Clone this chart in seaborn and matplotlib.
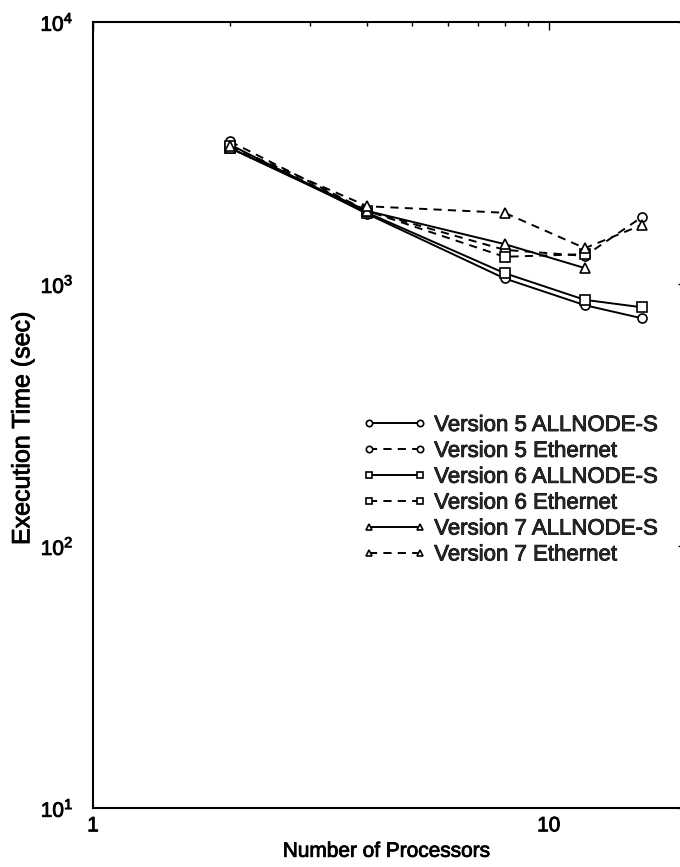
import matplotlib
matplotlib.use("Agg")
import matplotlib.pyplot as plt
import matplotlib.ticker as mticker
import matplotlib.patheffects as pe
import numpy as np
import pandas as pd
import seaborn as sns

# Processor counts and measured execution times (seconds)
procs = [2, 4, 8, 12, 16]
v5_allnode = [3400, 1850, 1050, 830, 740]
v5_ethernet = [3500, 1900, 1350, 1280, 1800]
v6_allnode = [3300, 1870, 1100, 870, 815]
v6_ethernet = [3350, 1900, 1270, 1300]
v7_allnode = [3300, 1900, 1420, 1150]
v7_ethernet = [3350, 1980, 1870, 1370, 1680]

series_labels = [
    "Version 5 ALLNODE-S",
    "Version 5 Ethernet",
    "Version 6 ALLNODE-S",
    "Version 6 Ethernet",
    "Version 7 ALLNODE-S",
    "Version 7 Ethernet",
]
series_values = [v5_allnode, v5_ethernet, v6_allnode, v6_ethernet, v7_allnode, v7_ethernet]
series_markers = ["o", "o", "s", "s", "^", "^"]
series_dashed = [False, True, False, True, False, True]

sns.set_theme(style="white")
plt.rcParams["font.family"] = ["Liberation Sans", "DejaVu Sans"]
plt.rcParams["mathtext.fontset"] = "custom"
plt.rcParams["mathtext.rm"] = "Liberation Sans"
plt.rcParams["mathtext.it"] = "Liberation Sans:italic"
plt.rcParams["mathtext.bf"] = "Liberation Sans:bold"

W, H = 680, 867
fig = plt.figure(figsize=(W / 100, H / 100), dpi=100)
fig.patch.set_facecolor("white")

left_px, right_px, top_px, bottom_px = 93, 686, 22, 808
ax = fig.add_axes([left_px / W, 1 - bottom_px / H,
                   (right_px - left_px) / W, (bottom_px - top_px) / H])
ax.set_facecolor("white")

for label, vals, mk, dashed in zip(series_labels, series_values, series_markers, series_dashed):
    df = pd.DataFrame({"procs": procs[:len(vals)], "time": vals})
    line_kw = dict(color="black", linewidth=1.4, marker=mk, markersize=6.5 if mk != "^" else 7,
                   markerfacecolor="white", markeredgecolor="black", markeredgewidth=1.2,
                   label=label, ax=ax, errorbar=None)
    sns.lineplot(data=df, x="procs", y="time", **line_kw)
    if dashed:
        ax.lines[-1].set_dashes((4.2, 3.2))

ax.set_xscale("log")
ax.set_yscale("log")
ax.set_xlim(1, 20)
ax.set_ylim(10, 10000)

ax.xaxis.set_major_locator(mticker.FixedLocator([1, 10]))
ax.xaxis.set_major_formatter(mticker.FixedFormatter(["1", "10"]))
ax.xaxis.set_minor_locator(mticker.LogLocator(base=10, subs=np.arange(2, 10)))
ax.xaxis.set_minor_formatter(mticker.NullFormatter())
ax.yaxis.set_major_locator(mticker.LogLocator(base=10))
ax.yaxis.set_minor_locator(mticker.LogLocator(base=10, subs=np.arange(2, 10)))
ax.yaxis.set_minor_formatter(mticker.NullFormatter())

ax.tick_params(axis="both", which="both", direction="in", top=True, right=True,
               colors="black", width=1.0)
ax.tick_params(axis="both", which="major", length=6, labelsize=15)
ax.tick_params(axis="both", which="minor", length=3)
ax.tick_params(axis="y", which="major", pad=14)
ax.tick_params(axis="x", which="major", pad=6)

for side in ["left", "bottom", "top", "right"]:
    ax.spines[side].set_visible(True)
    ax.spines[side].set_color("black")
    ax.spines[side].set_linewidth(1.5)

ax.set_xlabel("Number of Processors", fontsize=15, color="black")
ax.set_ylabel("Execution Time (sec)", fontsize=18, color="black")
ax.xaxis.set_label_coords(0.495, -0.043)
ax.yaxis.set_label_coords(-0.099, 0.483)

handles, labels = ax.get_legend_handles_labels()
leg = ax.legend(handles, labels, loc="upper left",
                bbox_to_anchor=(362 / W, 1 - 415 / H), bbox_transform=fig.transFigure,
                frameon=False, fontsize=16, numpoints=2, markerscale=0.7,
                handlelength=2.9, handletextpad=0.35, labelspacing=0.22, borderpad=0,
                borderaxespad=0)

# heavier strokes for all text, like a printed figure
heavy = [pe.withStroke(linewidth=0.6, foreground="black")]
texts = [ax.xaxis.label, ax.yaxis.label] + list(leg.get_texts())
texts += ax.get_xticklabels() + ax.get_yticklabels()
for t in texts:
    t.set_path_effects(heavy)

fig.savefig("out.png", dpi=100, facecolor="white")
